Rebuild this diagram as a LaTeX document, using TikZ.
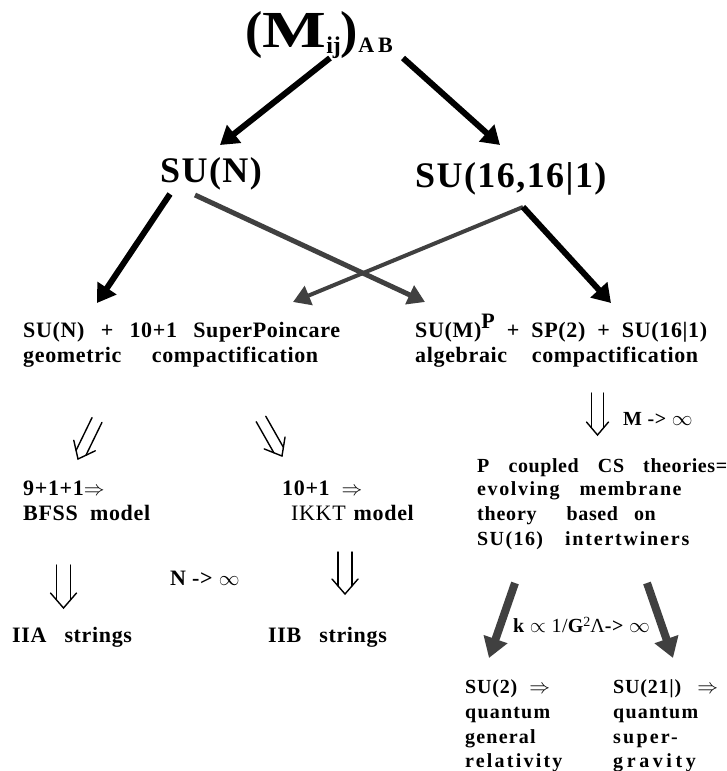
\documentclass[tikz,border=0pt]{standalone}
\usepackage{fontspec}
\usepackage{graphicx}
\setmainfont{Liberation Serif}
\usetikzlibrary{arrows.meta,calc}
\definecolor{dgray}{HTML}{404040}
\newcommand\ls[1]{\addfontfeature{LetterSpace=#1}}
\newcommand\hollowarrow[5]{% start, end, halfgap, headlen, headhalfwidth
  \pgfmathsetmacro\hb{#4*#3/#5}%
  \draw[hol] ($(#1)!#3pt!90:(#2)$) -- ($(#2)!\hb pt!(#1)!#3pt!-90:(#1)$);
  \draw[hol] ($(#1)!#3pt!-90:(#2)$) -- ($(#2)!\hb pt!(#1)!#3pt!90:(#1)$);
  \draw[hol] ($(#2)!#4pt!(#1)!#5pt!-90:(#1)$) -- (#2) -- ($(#2)!#4pt!(#1)!#5pt!90:(#1)$);
}
\begin{document}
\begin{tikzpicture}[x=1pt,y=-1pt,
  lbl/.style={anchor=base west, inner sep=0pt, font=\bfseries\fontsize{22}{24}\selectfont\ls{3}},
  lbr/.style={anchor=base west, inner sep=0pt, font=\bfseries\fontsize{20}{22}\selectfont\ls{3}},
  lbq/.style={anchor=base west, inner sep=0pt, font=\bfseries\fontsize{20}{22}\selectfont\ls{#1}},
  big/.style={anchor=base west, inner sep=0pt, font=\bfseries\fontsize{36}{40}\selectfont\ls{4}},
  blk/.style={line width=6pt, -{Triangle[length=18pt,width=22pt]}},
  gry/.style={draw=dgray, line width=5pt, -{Triangle[length=17pt,width=20pt]}},
  hol/.style={line width=1.4pt, line cap=round, line join=miter}]
\useasboundingbox (0,0) rectangle (727,771);

% title
\node[anchor=base west, inner sep=0pt, font=\bfseries] (title) at (245,47)
  {\fontsize{52}{52}\selectfont(\scalebox{1.3}[1]{M}\raisebox{-6pt}{\fontsize{24}{24}\selectfont ij})\raisebox{-5pt}{\fontsize{22}{22}\selectfont A\hspace{4pt}B}};
\node[big] (sun) at (160,182) {SU(N)};
\node[big] (su16) at (415,187) {SU(16,16|1)};

\coordinate (t1) at (330,58);
\coordinate (t2) at (403,58);
\coordinate (sunT) at (220,145);
\coordinate (su16T) at (500,145);
\draw[blk] (t1) -- (sunT);
\draw[blk] (t2) -- (su16T);

\coordinate (sunA) at (170,194);
\coordinate (sunB) at (195,195);
\coordinate (s16A) at (523,207);
\coordinate (geoT) at (97,303);
\coordinate (geoT2) at (293,302);
\coordinate (algT) at (425,302);
\coordinate (algT2) at (611,303);
\draw[gry] (sunB) -- (algT);
\draw[gry, line width=4pt] (s16A) -- (geoT2);
\draw[blk] (sunA) -- (geoT);
\draw[blk] (s16A) -- (algT2);

% left block
\node[lbl] (g1) at (23,337) {\makebox[317pt][s]{SU(N) + 10+1 SuperPoincare}};
\node[lbl] (g2) at (23,362) {\makebox[295pt][s]{geometric compactification}};
% right block
\node[lbl] (a1) at (415,337) {\makebox[292pt][s]{SU(M)\raisebox{9pt}{P} + SP(2) + SU(16|1)}};
\node[lbl] (a2) at (415,362) {\makebox[283pt][s]{algebraic compactification}};

% hollow arrows
\coordinate (h1s) at (97,420); \coordinate (h1e) at (78,459);
\coordinate (h2s) at (261,419); \coordinate (h2e) at (282,456);
\coordinate (h3s) at (63.5,565); \coordinate (h3e) at (63.5,608);
\coordinate (h4s) at (345,552); \coordinate (h4e) at (345,594);
\coordinate (h5s) at (597.5,393); \coordinate (h5e) at (597.5,435);
\hollowarrow{h1s}{h1e}{5.5}{15}{12}
\hollowarrow{h2s}{h2e}{5.5}{15}{12}
\hollowarrow{h3s}{h3e}{7}{15}{13}
\hollowarrow{h4s}{h4e}{7}{15}{13}
\hollowarrow{h5s}{h5e}{6}{13}{11}

\node[lbl] (b1) at (23,495) {9+1+1$\Rightarrow$};
\node[lbl] (b2) at (23,520) {\makebox[127pt][s]{BFSS model}};
\node[lbl] (k1) at (282,495) {10+1\hspace{12pt}$\Rightarrow$};
\node[lbl] (k2) at (291,520) {{\mdseries IKKT}\hspace{8pt}model};
\node[lbl] (ninf) at (170,585) {N -> $\infty$};
\node[lbl] (iia) at (12,642) {IIA\hspace{18pt}strings};
\node[lbl] (iib) at (268,642) {IIB\hspace{18pt}strings};

\node[lbr] (minf) at (623,425) {M -> $\infty$};
\node[lbr] (p1) at (477,472) {\makebox[250pt][s]{P coupled CS theories=}};
\node[lbr] (p2) at (477,495) {{\ls{8}evolving}\hspace{20pt}{\ls{7}membrane}};
\node[lbr] (p3) at (477,520) {{\ls{4}theory}\hspace{30pt}based\hspace{16pt}on};
\node[lbr] (p4) at (477,545) {{\ls{7}SU(16)}\hspace{22pt}{\ls{9}intertwiners}};

\coordinate (c1) at (515,583); \coordinate (c1e) at (489,658);
\coordinate (c2) at (647,583); \coordinate (c2e) at (673,658);
\draw[gry, line width=8pt, -{Triangle[length=20pt,width=24pt]}] (c1) -- (c1e);
\draw[gry, line width=8pt, -{Triangle[length=20pt,width=24pt]}] (c2) -- (c2e);
\node[lbr] (kk) at (513,632) {k $\propto$ {\mdseries 1/}G\raisebox{6pt}{\fontsize{14}{14}\selectfont\mdseries 2}{\mdseries Λ}-> $\infty$};

\node[lbq=4] (q1) at (465,693) {SU(2)\hspace{12pt}$\Rightarrow$};
\node[lbq=6] (q2) at (465,718) {quantum};
\node[lbq=6] (q3) at (465,743) {general};
\node[lbq=11] (q4) at (465,767) {relativity};
\node[lbq=4] (s1) at (613,693) {SU(21|)\hspace{16pt}$\Rightarrow$};
\node[lbq=6] (s2) at (613,718) {quantum};
\node[lbq=11] (s3) at (613,743) {super-};
\node[lbq=18] (s4) at (613,767) {gravity};
\end{tikzpicture}
\end{document}
